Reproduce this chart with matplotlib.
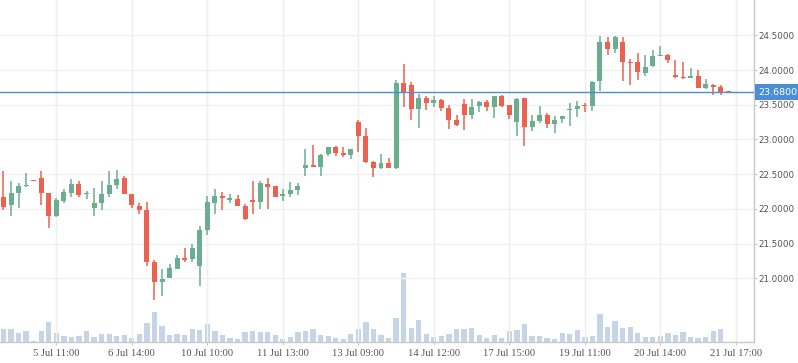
import matplotlib
matplotlib.use("Agg")
import matplotlib.pyplot as plt
import numpy as np
from matplotlib.transforms import blended_transform_factory

# ---- data ----
opens = [22.17, 22.05, 22.23, 22.33, 22.41, 22.45, 22.23, 21.90, 22.12, 22.23,
         22.36, 22.21, 22.02, 22.09, 22.22, 22.34, 22.44, 22.22, 22.04, 21.99,
         21.23, 20.95, 21.01, 21.14, 21.29, 21.28, 21.18, 21.69, 22.09, 22.19,
         22.13, 22.14, 22.04, 22.13, 22.10, 22.36, 22.33, 22.19, 22.22, 22.27,
         22.59, 22.63, 22.61, 22.79, 22.89, 22.80, 22.77, 23.25, 23.05, 22.67,
         22.59, 22.66, 22.59, 23.81, 23.78, 23.44, 23.60, 23.53, 23.57, 23.46,
         23.28, 23.51, 23.35, 23.48, 23.54, 23.47, 23.63, 23.50, 23.25, 23.60,
         23.18, 23.27, 23.35, 23.23, 23.29, 23.43, 23.44, 23.50, 23.48, 23.84,
         24.40, 24.30, 24.40, 24.12, 24.12, 23.96, 24.06, 24.20, 24.22, 23.93,
         23.90, 23.89, 23.91, 23.74, 23.78, 23.76, 23.69]
highs = [22.54, 22.40, 22.38, 22.52, 22.41, 22.54, 22.23, 22.16, 22.29, 22.43,
         22.40, 22.26, 22.30, 22.40, 22.55, 22.56, 22.47, 22.22, 22.09, 22.10,
         21.27, 21.14, 21.21, 21.34, 21.44, 21.49, 21.75, 22.19, 22.29, 22.24,
         22.21, 22.20, 22.07, 22.40, 22.40, 22.44, 22.33, 22.29, 22.39, 22.37,
         22.86, 22.92, 22.79, 22.89, 22.90, 22.89, 22.86, 23.28, 23.16, 22.69,
         22.79, 22.73, 23.86, 24.09, 23.83, 23.65, 23.63, 23.63, 23.58, 23.50,
         23.35, 23.59, 23.58, 23.55, 23.57, 23.63, 23.64, 23.50, 23.60, 23.60,
         23.35, 23.48, 23.38, 23.34, 23.34, 23.53, 23.55, 23.52, 23.84, 24.49,
         24.48, 24.49, 24.48, 24.16, 24.25, 24.22, 24.29, 24.35, 24.23, 24.14,
         24.12, 24.03, 24.00, 23.87, 23.80, 23.78, 23.69]
lows = [21.98, 21.90, 22.02, 22.31, 22.40, 22.06, 21.73, 21.89, 22.08, 22.17,
        22.17, 22.14, 21.90, 21.99, 22.17, 22.28, 22.21, 22.01, 21.92, 21.18,
        20.68, 20.75, 21.01, 21.14, 21.24, 21.24, 20.89, 21.63, 21.93, 21.99,
        22.09, 22.04, 21.84, 21.93, 22.00, 22.00, 22.17, 22.12, 22.17, 22.20,
        22.48, 22.61, 22.48, 22.76, 22.76, 22.75, 22.72, 22.82, 22.66, 22.46,
        22.58, 22.59, 22.58, 23.47, 23.28, 23.17, 23.43, 23.47, 23.41, 23.15,
        23.20, 23.14, 23.30, 23.40, 23.41, 23.31, 23.47, 23.30, 23.05, 22.91,
        23.12, 23.24, 23.17, 23.10, 23.24, 23.20, 23.33, 23.39, 23.41, 23.70,
        24.22, 24.25, 23.84, 23.78, 23.86, 23.92, 24.04, 24.20, 24.10, 23.89,
        23.87, 23.89, 23.74, 23.73, 23.64, 23.64, 23.68]
closes = [22.03, 22.23, 22.33, 22.35, 22.40, 22.23, 21.90, 22.13, 22.25, 22.36,
          22.20, 22.23, 22.09, 22.22, 22.35, 22.43, 22.22, 22.05, 21.99, 21.24,
          20.95, 20.99, 21.15, 21.29, 21.27, 21.44, 21.70, 22.10, 22.19, 22.15,
          22.15, 22.04, 21.86, 22.10, 22.37, 22.31, 22.17, 22.21, 22.27, 22.33,
          22.63, 22.61, 22.78, 22.89, 22.81, 22.77, 22.86, 23.05, 22.68, 22.59,
          22.66, 22.59, 23.81, 23.68, 23.44, 23.60, 23.53, 23.57, 23.46, 23.28,
          23.21, 23.35, 23.47, 23.54, 23.47, 23.63, 23.48, 23.36, 23.59, 23.18,
          23.27, 23.35, 23.23, 23.28, 23.34, 23.44, 23.48, 23.48, 23.83, 24.40,
          24.30, 24.48, 24.12, 24.10, 23.97, 24.04, 24.20, 24.22, 24.14, 23.90,
          23.89, 23.91, 23.74, 23.80, 23.76, 23.68, 23.68]
volumes = [40, 40, 28, 34, 2, 34, 61, 28, 19, 16, 19, 34, 16, 25, 25, 19, 22, 13,
           25, 58, 91, 49, 22, 25, 22, 40, 37, 55, 34, 22, 13, 10, 31, 34, 31, 31,
           22, 10, 16, 31, 34, 40, 22, 19, 13, 10, 25, 40, 61, 40, 22, 13, 73,
           207, 43, 67, 25, 16, 19, 25, 40, 40, 43, 22, 13, 22, 13, 34, 37, 55,
           19, 19, 13, 10, 28, 25, 37, 16, 19, 85, 46, 64, 43, 46, 28, 16, 16,
           19, 28, 22, 31, 16, 13, 16, 34, 40, 1]
tick_index = [7, 17, 27, 37, 47, 57, 67, 77, 87, 97]
tick_labels = ["5 Jul 11:00", "6 Jul 14:00", "10 Jul 10:00", "11 Jul 13:00",
               "13 Jul 09:00", "14 Jul 12:00", "17 Jul 15:00", "19 Jul 11:00",
               "20 Jul 14:00", "21 Jul 17:00"]
price_ticks = [21.0, 21.5, 22.0, 22.5, 23.0, 23.5, 24.0, 24.5]
last_price = 23.68

# ---- style ----
UP = "#6aae8f"
DOWN = "#ec6150"
VOL = "#c5d5e7"
GRID = "#f0f0f0"
AXIS = "#c8c8c8"
TXT = "#555555"
BLUE = "#4a8fd6"

o = np.array(opens); h = np.array(highs); l = np.array(lows); c = np.array(closes)
v = np.array(volumes)
n = len(o)
x = np.arange(n)

fig = plt.figure(figsize=(7.98, 3.63), dpi=100)
ax = fig.add_axes([0.0, 21 / 363, 754 / 798, 342 / 363])
axv = ax.twinx()
ax.set_zorder(axv.get_zorder() + 1)
ax.patch.set_visible(False)
axv.patch.set_facecolor("white")

# volume
axv.bar(x, v, width=0.7, color=VOL, zorder=1)
axv.set_ylim(0, 1026)
axv.set_yticks([])
for s in axv.spines.values():
    s.set_visible(False)

# candles
colors = np.where(c >= o, UP, DOWN)
bottom = np.minimum(o, c)
height = np.maximum(np.abs(c - o), 0.012)
ax.vlines(x, l, h, colors=colors, linewidth=1.1, zorder=3)
ax.bar(x, height, bottom=bottom, width=0.66, color=colors, zorder=4, linewidth=0)

ax.set_xlim(-0.46, 99.4)
ax.set_ylim(20.082, 25.01)

# grid
ax.set_yticks(price_ticks)
ax.set_yticklabels([f"{p:.4f}" for p in price_ticks])
ax.set_xticks(tick_index)
ax.set_xticklabels(tick_labels)
ax.grid(True, color=GRID, linewidth=1, zorder=0)
ax.set_axisbelow(True)
axv.set_xlim(ax.get_xlim())
for t in tick_index:
    axv.axvline(t, color=GRID, linewidth=1, zorder=0)
for p in price_ticks:
    pass

ax.yaxis.tick_right()
ax.tick_params(axis="y", length=2, width=0.8, color=AXIS, pad=1.5,
               labelsize=6.3, labelcolor=TXT)
ax.tick_params(axis="x", length=2.5, width=0.8, color=AXIS, pad=2.5,
               labelsize=7.6, labelcolor=TXT)
for lab in ax.get_xticklabels():
    lab.set_fontfamily("Liberation Serif")
for lab in ax.get_yticklabels():
    lab.set_fontfamily("DejaVu Sans")

for side in ["top", "left"]:
    ax.spines[side].set_visible(False)
ax.spines["right"].set_color(AXIS)
ax.spines["bottom"].set_color(AXIS)
ax.spines["right"].set_linewidth(1)
ax.spines["bottom"].set_linewidth(1)

# last price line and label
ax.axhline(last_price, color=BLUE, linewidth=1, zorder=5)
trans = blended_transform_factory(ax.transAxes, ax.transData)
ax.annotate(f"{last_price:.4f}", xy=(1.0, last_price), xycoords=trans,
            xytext=(3.2, 0), textcoords="offset points",
            ha="left", va="center", fontsize=6.8, color="white",
            family="DejaVu Sans", annotation_clip=False,
            bbox=dict(boxstyle="square,pad=0.35", fc=BLUE, ec="none"))

fig.savefig("out.png", dpi=100)
